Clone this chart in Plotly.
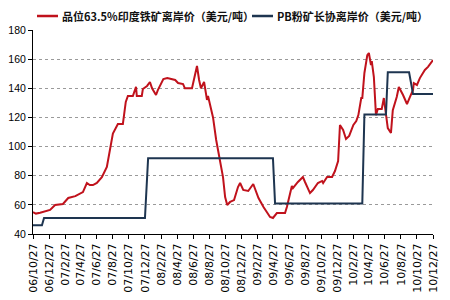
import plotly.graph_objects as go

red_name = "品位63.5%印度铁矿离岸价（美元/吨）"
blue_name = "PB粉矿长协离岸价（美元/吨）"
red_color = "#C0121C"
blue_color = "#1E3550"

red_dates = [
    "2006-10-27", "2006-11-07", "2006-11-23", "2006-12-12", "2006-12-31", "2007-01-19",
    "2007-02-18", "2007-03-10", "2007-04-06", "2007-05-05", "2007-05-20", "2007-05-31",
    "2007-06-12", "2007-06-27", "2007-07-16", "2007-08-04", "2007-08-15", "2007-08-27",
    "2007-09-15", "2007-10-04", "2007-10-15", "2007-10-23", "2007-11-11", "2007-11-23",
    "2007-11-26", "2007-12-15", "2007-12-19", "2008-01-04", "2008-01-15", "2008-01-23",
    "2008-02-07", "2008-02-14", "2008-03-06", "2008-03-21", "2008-04-20", "2008-05-01",
    "2008-05-20", "2008-05-27", "2008-06-23", "2008-07-01", "2008-07-12", "2008-07-20",
    "2008-07-27", "2008-08-08", "2008-08-19", "2008-08-23", "2008-09-04", "2008-09-11",
    "2008-09-23", "2008-10-04", "2008-10-19", "2008-10-27", "2008-11-04", "2008-11-15",
    "2008-11-30", "2008-12-15", "2008-12-23", "2009-01-04", "2009-01-23", "2009-02-11",
    "2009-03-03", "2009-03-22", "2009-04-16", "2009-04-27", "2009-05-12", "2009-06-12",
    "2009-06-19", "2009-07-08", "2009-07-12", "2009-07-31", "2009-08-19", "2009-08-27",
    "2009-09-15", "2009-09-26", "2009-10-15", "2009-10-31", "2009-11-04", "2009-11-19",
    "2009-12-08", "2009-12-19", "2009-12-31", "2010-01-07", "2010-01-19", "2010-01-30",
    "2010-02-11", "2010-02-27", "2010-03-10", "2010-03-18", "2010-03-29", "2010-04-02",
    "2010-04-10", "2010-04-21", "2010-04-27", "2010-05-05", "2010-05-08", "2010-05-16",
    "2010-05-24", "2010-05-31", "2010-06-15", "2010-06-23", "2010-07-01", "2010-07-08",
    "2010-07-20", "2010-07-27", "2010-08-11", "2010-08-19", "2010-09-04", "2010-09-11",
    "2010-09-19", "2010-09-30", "2010-10-12", "2010-10-15", "2010-10-27", "2010-11-07",
    "2010-11-19", "2010-11-26", "2010-12-08", "2010-12-27",
]
red_values = [
    55.0, 54.0, 54.6, 55.5, 56.5, 59.9,
    60.6, 64.7, 66.0, 68.8, 75.0, 73.6,
    73.6, 75.0, 79.0, 86.0, 97.6, 109.0,
    115.5, 115.5, 130.6, 134.7, 134.7, 141.0,
    134.7, 134.7, 139.5, 141.6, 144.3, 140.0,
    135.4, 138.8, 146.3, 147.0, 145.7, 143.6,
    142.9, 140.0, 140.0, 145.7, 155.3, 145.7,
    140.0, 144.3, 132.0, 134.7, 125.0, 120.0,
    104.5, 92.8, 79.0, 65.4, 59.9, 62.0,
    63.3, 72.2, 75.0, 70.2, 69.5, 74.3,
    64.7, 58.5, 51.7, 51.0, 54.4, 54.4,
    58.5, 72.9, 71.5, 75.7, 79.1, 75.7,
    68.1, 70.2, 75.0, 76.4, 75.0, 79.1,
    79.1, 83.2, 90.1, 114.8, 111.4, 105.2,
    107.3, 114.8, 117.5, 121.6, 133.3, 133.3,
    150.5, 162.8, 164.2, 156.0, 158.7, 147.7,
    121.6, 125.8, 125.8, 133.3, 123.0, 112.7,
    109.3, 125.0, 134.0, 140.9, 135.4, 132.6,
    129.2, 134.0, 138.8, 143.6, 142.3, 147.0,
    150.5, 152.6, 154.7, 159.4,
]

blue_dates = [
    "2006-10-27", "2006-11-30", "2006-12-08", "2007-12-27", "2008-01-08",
    "2009-04-27", "2009-05-05", "2010-04-02", "2010-04-10", "2010-07-01",
    "2010-07-08", "2010-09-27", "2010-10-12", "2010-12-27",
]
blue_values = [46, 46, 51, 51, 92, 92, 61, 61, 122, 122, 151, 151, 136, 136]

tick_dates = [
    "2006-10-27", "2006-12-27", "2007-02-27", "2007-04-27", "2007-06-27", "2007-08-27",
    "2007-10-27", "2007-12-27", "2008-02-27", "2008-04-27", "2008-06-27", "2008-08-27",
    "2008-10-27", "2008-12-27", "2009-02-27", "2009-04-27", "2009-06-27", "2009-08-27",
    "2009-10-27", "2009-12-27", "2010-02-27", "2010-04-27", "2010-06-27", "2010-08-27",
    "2010-10-27", "2010-12-27",
]
tick_labels = [
    "06/10/27", "06/12/27", "07/2/27", "07/4/27", "07/6/27", "07/8/27",
    "07/10/27", "07/12/27", "08/2/27", "08/4/27", "08/6/27", "08/8/27",
    "08/10/27", "08/12/27", "09/2/27", "09/4/27", "09/6/27", "09/8/27",
    "09/10/27", "09/12/27", "10/2/27", "10/4/27", "10/6/27", "10/8/27",
    "10/10/27", "10/12/27",
]
y_ticks = [40, 60, 80, 100, 120, 140, 160, 180]

fig = go.Figure()
fig.add_trace(go.Scatter(x=red_dates, y=red_values, mode="lines", name=red_name,
                         line=dict(color=red_color, width=2)))
fig.add_trace(go.Scatter(x=blue_dates, y=blue_values, mode="lines", name=blue_name,
                         line=dict(color=blue_color, width=2)))

# Custom one-row legend (line sample + label)
legend_y = 1.0686
legend_items = [
    (0.010, 0.0625, 0.0675, red_color, red_name),
    (0.5475, 0.600, 0.605, blue_color, blue_name),
]
for x0, x1, xt, col, name in legend_items:
    fig.add_shape(type="line", xref="paper", yref="paper", x0=x0, x1=x1,
                  y0=legend_y, y1=legend_y, line=dict(color=col, width=2.5))
    fig.add_annotation(xref="paper", yref="paper", x=xt, y=legend_y, text=name,
                       showarrow=False, xanchor="left", yanchor="middle",
                       font=dict(family="Noto Sans CJK SC", size=11, color="#111",
                                 weight="bold"))

fig.update_layout(
    width=450, height=300,
    margin=dict(l=33, r=17, t=30, b=66),
    paper_bgcolor="white", plot_bgcolor="white",
    font=dict(family="Liberation Sans, Noto Sans CJK SC", size=11, color="#000"),
    showlegend=False,
)
fig.update_xaxes(
    type="date", range=["2006-10-27", "2010-12-27"],
    tickmode="array", tickvals=tick_dates, ticktext=tick_labels,
    tickangle=-90, ticks="outside", ticklen=4, tickcolor="#000",
    showline=True, linecolor="#000", linewidth=1, showgrid=False,
    tickfont=dict(family="DejaVu Sans", size=11), automargin=False,
)
fig.update_yaxes(
    range=[40, 180], tickmode="array", tickvals=y_ticks,
    ticks="outside", ticklen=4, tickcolor="#000",
    showline=True, linecolor="#000", linewidth=1,
    showgrid=True, gridcolor="#9a9a9a", gridwidth=1, griddash="dot",
    zeroline=False, tickfont=dict(family="Liberation Sans", size=10.5),
    automargin=False,
)

fig.write_html("out.html")
